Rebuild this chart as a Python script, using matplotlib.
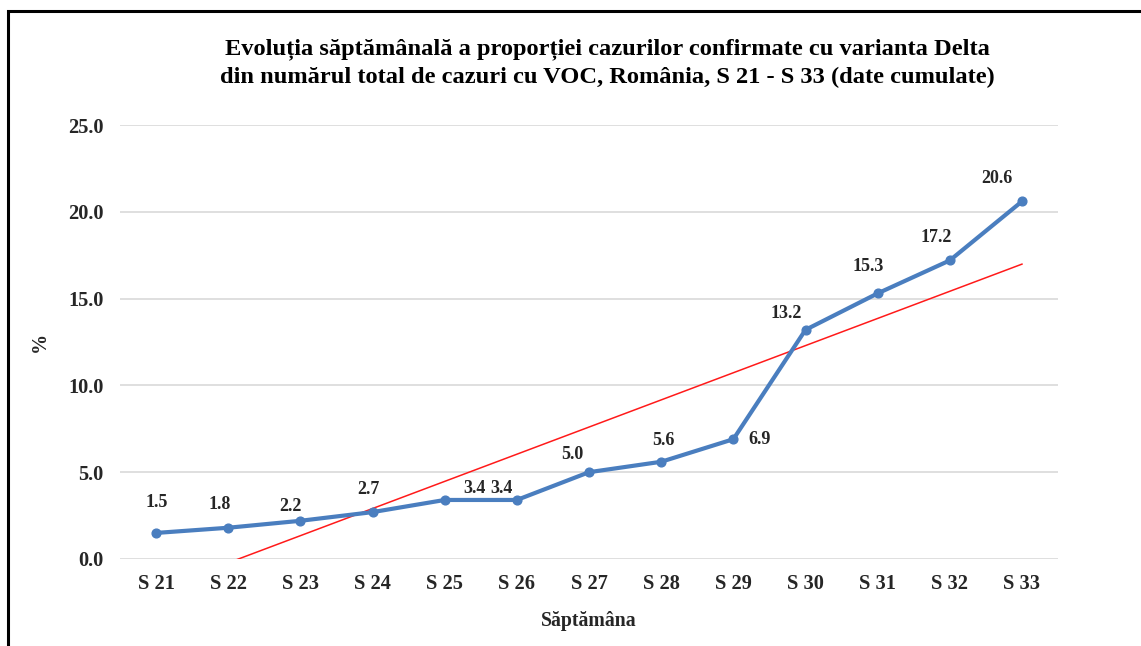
import numpy as np
import matplotlib.pyplot as plt
from matplotlib.patches import Rectangle

# data
weeks = ['S 21', 'S 22', 'S 23', 'S 24', 'S 25', 'S 26', 'S 27',
         'S 28', 'S 29', 'S 30', 'S 31', 'S 32', 'S 33']
delta_pct = [1.5, 1.8, 2.2, 2.7, 3.4, 3.4, 5.0, 5.6, 6.9, 13.2, 15.3, 17.2, 20.6]
y_ticks = [0, 5, 10, 15, 20, 25]

# label offsets in points (dx, dy)
label_offsets = [(0.5, 22), (-6.5, 16.5), (-7, 10), (-3, 16.5), (21.5, 8.5), (-11, 8.5),
                 (-12, 13), (1.5, 15), (19, 0), (-14, 11.5), (-7, 19), (-9.5, 16.5),
                 (-18, 16.5)]

plt.rcParams['font.family'] = ['Liberation Serif', 'DejaVu Serif']

fig = plt.figure(figsize=(11.41, 6.46), dpi=100)
ax = fig.add_axes([0.1052, 0.1347, 0.8221, 0.6718])

x = np.arange(len(weeks))
blue = '#4A7EBF'
ax.plot(x, delta_pct, color=blue, lw=3.0, marker='o', ms=6.3, zorder=3,
        solid_capstyle='round', solid_joinstyle='round')

# linear trendline (Excel style)
k, b = np.polyfit(x, delta_pct, 1)
xt = np.array([x[0], x[-1]])
ax.plot(xt, k * xt + b, color='#FF1A1A', lw=1.1, zorder=2)

for xi, yi, (dx, dy) in zip(x, delta_pct, label_offsets):
    ax.annotate(f'{yi:.1f}', (xi, yi), xytext=(dx, dy), textcoords='offset points',
                ha='center', va='center', fontsize=13, fontweight='bold',
                color='#262626')

ax.set_xlim(-0.5, len(weeks) - 0.5)
ax.set_ylim(0, 25)
ax.set_xticks(x)
ax.set_xticklabels(weeks)
ax.set_yticks(y_ticks)
ax.set_yticklabels([f'{v:.1f}' for v in y_ticks])
ax.tick_params(length=0, labelsize=14.7, colors='#262626')
ax.tick_params(axis='x', pad=11)
ax.tick_params(axis='y', pad=12)
for lab in ax.get_xticklabels() + ax.get_yticklabels():
    lab.set_fontweight('bold')
ax.grid(axis='y', color='#D9D9D9', lw=1.2)
ax.set_axisbelow(True)
for s in ax.spines.values():
    s.set_visible(False)

ax.set_ylabel('%', fontsize=14.5, fontweight='bold', color='#262626', labelpad=13)
ax.set_xlabel('Săptămâna', fontsize=14.2, fontweight='bold', color='#262626', labelpad=12)

fig.text(0.532, 0.9025,
         'Evoluția săptămânală a proporției cazurilor confirmate cu varianta Delta\n'
         'din numărul total de cazuri cu VOC, România, S 21 - S 33 (date cumulate)',
         ha='center', va='center', fontsize=17.6, fontweight='bold', linespacing=1.4)

# outer frame (left and top edges visible)
fig.patches.append(Rectangle((8 / 1141, -0.1), 1.2, 1.1 - 11 / 646,
                             transform=fig.transFigure, fill=False,
                             edgecolor='black', lw=2.2))

fig.savefig('out.png', dpi=100)
